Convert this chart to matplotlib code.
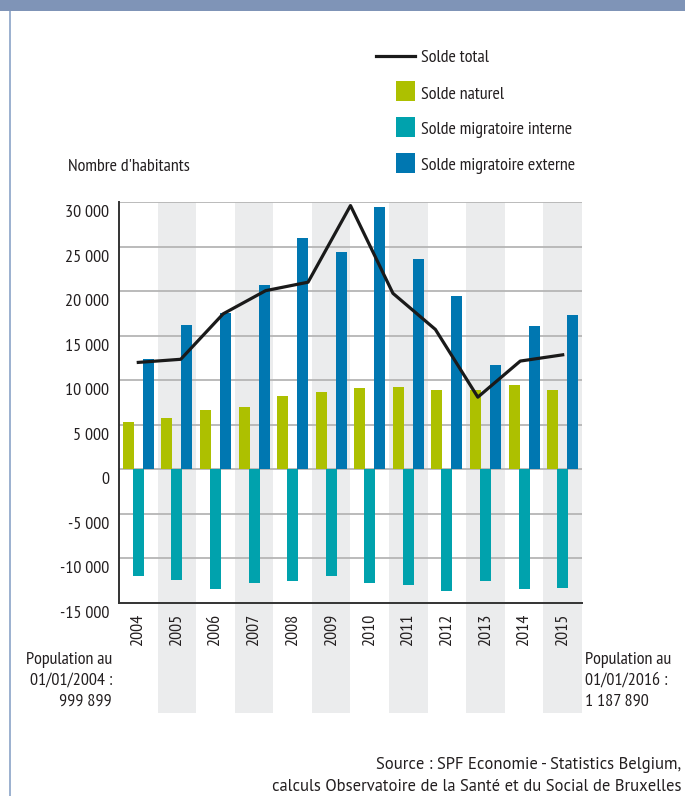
import numpy as np
import matplotlib
matplotlib.use('Agg')
import matplotlib.pyplot as plt
import matplotlib.transforms as mtransforms
from matplotlib.patches import Rectangle
from matplotlib.lines import Line2D

# values
years = ['2004', '2005', '2006', '2007', '2008', '2009',
         '2010', '2011', '2012', '2013', '2014', '2015']
solde_naturel = [5300, 5800, 6700, 7000, 8200, 8700, 9100, 9250, 8900, 8900, 9450, 8900]
solde_interne = [-12000, -12450, -13450, -12800, -12550, -12000,
                 -12800, -12950, -13700, -12550, -13450, -13350]
solde_externe = [12400, 16200, 17550, 20700, 26000, 24350,
                 29450, 23650, 19450, 11700, 16100, 17350]
# the total line has only 11 points in the source chart
solde_total = [12000, 12350, 17450, 20050, 21000, 29600, 19750, 15700, 8100, 12150, 12850]

yticks = [-15000, -10000, -5000, 0, 5000, 10000, 15000, 20000, 25000, 30000]

c_nat = '#adc000'
c_int = '#00a2ad'
c_ext = '#0077b1'
c_band = '#ebeced'
c_grid = '#b5b5b5'
c_text = '#231f20'

W, H = 685, 796
narrow = ['PT Sans Narrow', 'DejaVu Sans']
plain = ['PT Sans', 'DejaVu Sans']
plt.rcParams['font.family'] = narrow
fs = 13


def fx(x):
    return x / W


def fy(y):
    return 1 - y / H


fig = plt.figure(figsize=(W / 100, H / 100), dpi=100)
fig.patch.set_facecolor('white')

# frame of the page
fig.add_artist(Rectangle((0, fy(11)), 1, 11 / H, transform=fig.transFigure,
                         color='#7f94b7', lw=0))
fig.add_artist(Rectangle((fx(9), 0), 2 / W, fy(11), transform=fig.transFigure,
                         color='#9db2d0', lw=0))

ax = fig.add_axes([fx(119), fy(603), (582 - 119) / W, (603 - 202) / H])
ax.set_facecolor('none')

x = np.arange(len(years))

# shaded columns, running below the axis through the year labels
trans = mtransforms.blended_transform_factory(ax.transData, fig.transFigure)
for i in x:
    if i % 2 == 1:
        ax.add_patch(Rectangle((i - 0.5, fy(713)), 1, fy(202) - fy(713),
                               transform=trans, color=c_band, lw=0,
                               clip_on=False, zorder=0))

for v in yticks[1:]:
    ax.axhline(v, color=c_grid, lw=1.3, zorder=1)

bw = 0.285
off = 0.26
ax.bar(x - off, solde_naturel, bw, color=c_nat, zorder=2)
ax.bar(x, solde_interne, bw, color=c_int, zorder=2)
ax.bar(x + off, solde_externe, bw, color=c_ext, zorder=2)

line_x = np.linspace(0, len(years) - 1, len(solde_total))
ax.plot(line_x, solde_total, color='#1a1a1a', lw=2.3, zorder=3)

ax.set_xlim(-0.5, len(years) - 0.5)
ax.set_ylim(-15000, 30000)
ax.set_yticks(yticks)
ax.set_yticklabels([f'{v:,}'.replace(',', ' ') for v in yticks])
ax.set_xticks(x)
ax.set_xticklabels(years, rotation=90, va='top')
ax.tick_params(axis='y', length=0, pad=7, labelsize=fs, labelcolor=c_text)
ax.tick_params(axis='x', length=0, pad=8, labelsize=fs, labelcolor=c_text)
for lab in ax.get_yticklabels():
    lab.set_transform(lab.get_transform() +
                      mtransforms.ScaledTranslation(0, -9 / 100, fig.dpi_scale_trans))

for s in ['top', 'right']:
    ax.spines[s].set_visible(False)
ax.spines['left'].set_color('#333333')
ax.spines['bottom'].set_color('#333333')
ax.spines['left'].set_linewidth(1.4)
ax.spines['bottom'].set_linewidth(1.4)

# legend
fig.add_artist(Line2D([fx(376), fx(415)], [fy(56), fy(56)], color='#1a1a1a',
                      lw=2.3, transform=fig.transFigure))
for yy, col in [(91, c_nat), (127, c_int), (163, c_ext)]:
    fig.add_artist(Rectangle((fx(396), fy(yy + 10)), 19 / W, 20 / H,
                             transform=fig.transFigure, color=col, lw=0))
legend_labels = ['Solde total', 'Solde naturel', 'Solde migratoire interne',
                 'Solde migratoire externe']
for yy, txt in zip([58, 95, 130, 166], legend_labels):
    fig.text(fx(421), fy(yy), txt, fontsize=fs, color=c_text, va='center')

fig.text(fx(68), fy(167), "Nombre d'habitants", fontsize=fs, color=c_text, va='center')

fig.text(fx(112), fy(681), 'Population au\n01/01/2004 :\n999 899', fontsize=fs,
         color=c_text, ha='right', va='center', linespacing=1.38)
fig.text(fx(585), fy(681), 'Population au\n01/01/2016 :\n1 187 890', fontsize=fs,
         color=c_text, ha='left', va='center', linespacing=1.38)

fig.text(fx(681), fy(765), 'Source : SPF Economie - Statistics Belgium,', fontsize=12,
         color=c_text, ha='right', va='center', family=plain)
fig.text(fx(681), fy(787), 'calculs Observatoire de la Santé et du Social de Bruxelles',
         fontsize=12, color=c_text, ha='right', va='center', family=plain)

fig.savefig('out.png', dpi=100)
